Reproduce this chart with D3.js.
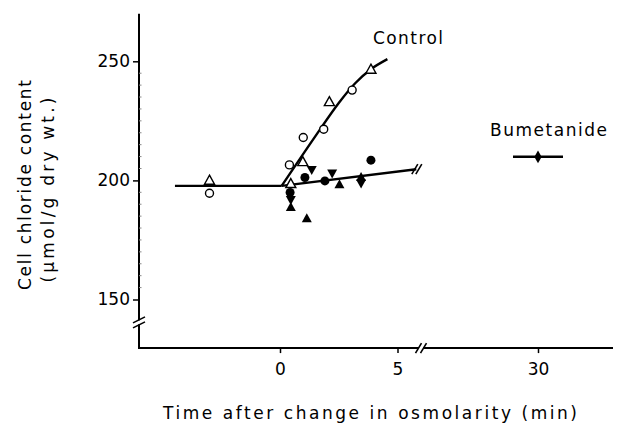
<!DOCTYPE html>
<html><head><meta charset="utf-8">
<script src="https://cdn.jsdelivr.net/npm/d3@7"></script>
<style>body{margin:0;background:#fff} svg{display:block} text{font-family:"DejaVu Sans",sans-serif;fill:#000}</style>
</head>
<body><svg id="c" width="621" height="427"></svg>
<script>
// ---- data ----
const yTicks = [150, 200, 250];
const xTicksLeft = [0, 5];
const xTicksRight = [30];
const baseline = [[-4.47, 197.7], [0.07, 197.7]];
const controlCurve = [[0.07, 197.7], [1.5, 218.5], [2.5, 232.5], [3.2, 240.8], [3.87, 246.7], [4.57, 250.9]];
const bumetanideLine = [[0.07, 197.7], [5.8, 204.7]];
const controlTriangles = [[-3.0, 200.1], [0.46, 198.7], [0.97, 207.9], [2.10, 233.1], [3.87, 246.7]];
const controlCircles = [[-3.0, 194.6], [0.40, 206.5], [0.99, 218.0], [1.86, 221.5], [3.07, 237.9]];
const bumCircles = [[0.43, 194.9], [1.06, 201.2], [1.91, 199.8], [3.87, 208.5]];
const bumDown = [[0.46, 191.8], [1.35, 204.3], [2.22, 202.9], [3.45, 198.7]];
const bumUp = [[0.46, 188.9], [1.14, 184.1], [2.53, 198.4], [3.45, 201.5]];
const bum30 = [30, 209.9];
const bum30Range = [29, 31];
const labels = {control: "Control", bumetanide: "Bumetanide",
  xTitle: "Time after change in osmolarity (min)",
  yTitle1: "Cell chloride content", yTitle2: "(\u03bcmol/g dry wt.)"};

// ---- scales ----
const xL = d3.scaleLinear().domain([-6, 6]).range([139, 421]);
const xR = d3.scaleLinear().domain([25, 33]).range([413, 613]);
const y = d3.scaleLinear().domain([150, 250]).range([299.5, 61.3]);
const yMin = 129.6, yMax = 270;

const svg = d3.select("#c");
const g = svg.append("g");

// axes lines
const axX0 = xL(-6), axY0 = y(yMin);
g.append("line").attr("x1", axX0).attr("x2", axX0).attr("y1", y(yMax)).attr("y2", axY0)
  .attr("stroke", "#000").attr("stroke-width", 2);
g.append("line").attr("x1", axX0 - 1).attr("x2", xR(33)).attr("y1", axY0).attr("y2", axY0)
  .attr("stroke", "#000").attr("stroke-width", 2);

// y axis ticks
const yAxis = d3.axisLeft(y).tickValues(yTicks).tickSize(6).tickPadding(3);
const ya = g.append("g").attr("transform", `translate(${axX0},0)`).call(yAxis);
ya.select(".domain").remove();
ya.selectAll("line").attr("stroke-width", 1.5);
ya.selectAll("text").attr("font-size", 17).attr("font-family", "DejaVu Sans");
// minor ticks
g.selectAll("line.minor").data(d3.range(155, 250, 5).filter(v => v % 50 !== 0)).enter()
  .append("line").attr("class", "minor")
  .attr("x1", axX0).attr("x2", axX0 + 2.5).attr("y1", d => y(d)).attr("y2", d => y(d))
  .attr("stroke", "#888").attr("stroke-width", 1);

// x axis ticks
const xa1 = g.append("g").attr("transform", `translate(0,${axY0})`)
  .call(d3.axisBottom(xL).tickValues(xTicksLeft).tickSize(5).tickPadding(10));
const xa2 = g.append("g").attr("transform", `translate(0,${axY0})`)
  .call(d3.axisBottom(xR).tickValues(xTicksRight).tickSize(5).tickPadding(10));
[xa1, xa2].forEach(a => {
  a.select(".domain").remove();
  a.selectAll("line").attr("stroke-width", 1.5);
  a.selectAll("text").attr("font-size", 17).attr("font-family", "DejaVu Sans");
});

// break marks
function brk(cx, cy, horizontalAxis) {
  const b = g.append("g");
  [-2.5, 2.5].forEach(o => {
    if (horizontalAxis) {
      b.append("line").attr("x1", cx + o - 3).attr("y1", cy + 5).attr("x2", cx + o + 3).attr("y2", cy - 5)
        .attr("stroke", "#000").attr("stroke-width", 1.6);
    } else {
      b.append("line").attr("x1", cx - 6).attr("y1", cy + o + 3).attr("x2", cx + 6).attr("y2", cy + o - 3)
        .attr("stroke", "#000").attr("stroke-width", 1.6);
    }
  });
}
g.append("rect").attr("x", axX0 - 2).attr("y", y(140.4) - 2).attr("width", 4).attr("height", 4).attr("fill", "#fff");
brk(axX0, y(140.4), false);
g.append("rect").attr("x", xL(6) - 2).attr("y", axY0 - 2).attr("width", 4).attr("height", 4).attr("fill", "#fff");
brk(xL(6), axY0, true);

// lines
const line = d3.line().x(d => xL(d[0])).y(d => y(d[1]));
g.append("path").attr("d", line(baseline)).attr("fill", "none").attr("stroke", "#000").attr("stroke-width", 2.4);
g.append("path").attr("d", d3.line().x(d => xL(d[0])).y(d => y(d[1])).curve(d3.curveCatmullRom.alpha(0.5))(controlCurve))
  .attr("fill", "none").attr("stroke", "#000").attr("stroke-width", 2.4);
g.append("path").attr("d", line(bumetanideLine)).attr("fill", "none").attr("stroke", "#000").attr("stroke-width", 2.4);
// break on bumetanide line end
{
  const ex = xL(bumetanideLine[1][0]), ey = y(bumetanideLine[1][1]);
  [-1.5, 2.5].forEach(o => g.append("line").attr("x1", ex + o - 3).attr("y1", ey + 5).attr("x2", ex + o + 3).attr("y2", ey - 5)
    .attr("stroke", "#000").attr("stroke-width", 1.6));
}
// bumetanide 30 min
g.append("line").attr("x1", xR(bum30Range[0])).attr("x2", xR(bum30Range[1]))
  .attr("y1", y(bum30[1])).attr("y2", y(bum30[1])).attr("stroke", "#000").attr("stroke-width", 2.4);

// markers
function triPath(cx, cy, up, w = 10, h = 9) {
  return up
    ? `M${cx},${cy - h * 0.55}L${cx + w / 2},${cy + h * 0.45}L${cx - w / 2},${cy + h * 0.45}Z`
    : `M${cx},${cy + h * 0.55}L${cx + w / 2},${cy - h * 0.45}L${cx - w / 2},${cy - h * 0.45}Z`;
}
g.selectAll("path.ot").data(controlTriangles).enter().append("path").attr("class", "ot")
  .attr("d", d => triPath(xL(d[0]), y(d[1]), true)).attr("fill", "#fff").attr("stroke", "#000").attr("stroke-width", 1.4);
g.selectAll("circle.oc").data(controlCircles).enter().append("circle").attr("class", "oc")
  .attr("cx", d => xL(d[0])).attr("cy", d => y(d[1])).attr("r", 4).attr("fill", "#fff").attr("stroke", "#000").attr("stroke-width", 1.4);
g.selectAll("circle.fc").data(bumCircles).enter().append("circle").attr("class", "fc")
  .attr("cx", d => xL(d[0])).attr("cy", d => y(d[1])).attr("r", 4.5).attr("fill", "#000");
g.selectAll("path.fd").data(bumDown).enter().append("path").attr("class", "fd")
  .attr("d", d => triPath(xL(d[0]), y(d[1]), false)).attr("fill", "#000");
g.selectAll("path.fu").data(bumUp).enter().append("path").attr("class", "fu")
  .attr("d", d => triPath(xL(d[0]), y(d[1]), true)).attr("fill", "#000");
g.append("path").attr("d", triPath(xR(bum30[0]), y(bum30[1]) - 2.5, true, 8, 7)).attr("fill", "#000");
g.append("path").attr("d", triPath(xR(bum30[0]), y(bum30[1]) + 2.5, false, 8, 7)).attr("fill", "#000");

// labels
g.append("text").attr("x", 373).attr("y", 44).attr("font-size", 17).attr("textLength", 70).text(labels.control);
g.append("text").attr("x", 490).attr("y", 136).attr("font-size", 17).attr("textLength", 117).text(labels.bumetanide);
g.append("text").attr("x", 163).attr("y", 419).attr("font-size", 17).attr("textLength", 414).text(labels.xTitle);
g.append("text").attr("transform", "translate(31,185) rotate(-90)").attr("text-anchor", "middle")
  .attr("font-size", 17).attr("textLength", 210).text(labels.yTitle1);
g.append("text").attr("transform", "translate(54,190) rotate(-90)").attr("text-anchor", "middle")
  .attr("font-size", 17).attr("textLength", 185).text(labels.yTitle2);
</script>
</body></html>
